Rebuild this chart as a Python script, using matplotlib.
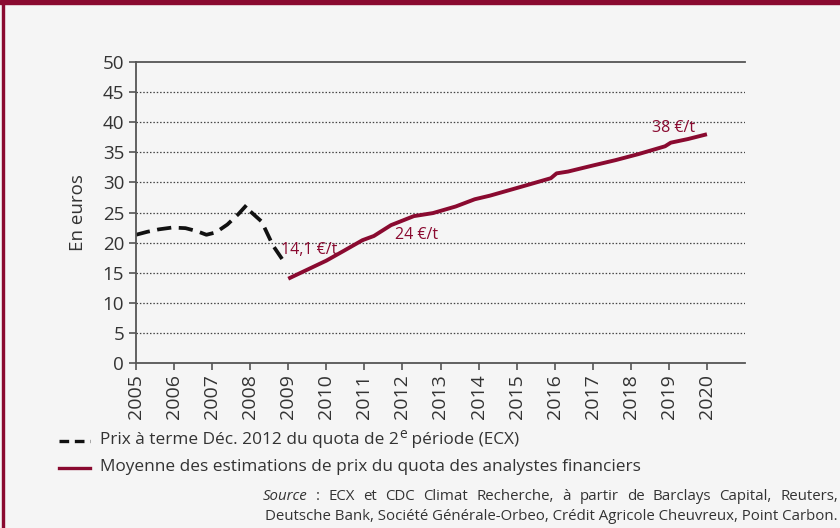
import matplotlib
matplotlib.use('Agg')
import matplotlib.pyplot as plt
from matplotlib.lines import Line2D
from matplotlib.patches import Rectangle

# data
ecx_years = [2005.0, 2005.3, 2005.6, 2005.95, 2006.3, 2006.6, 2006.85, 2007.1,
             2007.4, 2007.7, 2007.9, 2008.0, 2008.3, 2008.6, 2008.9]
ecx_prices = [21.3, 21.8, 22.2, 22.5, 22.4, 21.9, 21.3, 21.7,
              23.0, 24.8, 26.2, 25.2, 23.5, 19.5, 16.7]

est_years = [2009.0, 2009.5, 2010.0, 2010.45, 2010.95, 2011.25, 2011.7, 2012.3,
             2012.8, 2013.4, 2013.9, 2014.3, 2014.8, 2015.3, 2015.9, 2016.05,
             2016.35, 2017.0, 2017.6, 2018.2, 2018.9, 2019.05, 2019.5, 2020.0]
est_prices = [14.0, 15.5, 17.0, 18.6, 20.4, 21.1, 22.9, 24.4,
              24.9, 26.0, 27.2, 27.8, 28.7, 29.6, 30.7, 31.5,
              31.8, 32.8, 33.7, 34.7, 36.0, 36.6, 37.2, 38.0]

labels_txt = ['14,1 €/t', '24 €/t', '38 €/t']
labels_pos = [(2009.55, 18.8), (2012.36, 21.3), (2019.12, 39.0)]

years = list(range(2005, 2021))
yticks = list(range(0, 55, 5))

legend_1 = ['Prix à terme Déc. 2012 du quota de 2', 'e', ' période (ECX)']
legend_2 = 'Moyenne des estimations de prix du quota des analystes financiers'
source_1 = ['ECX', 'et', 'CDC', 'Climat', 'Recherche,', 'à', 'partir', 'de',
            'Barclays', 'Capital,', 'Reuters,']
source_2 = 'Deutsche Bank, Société Générale-Orbeo, Crédit Agricole Cheuvreux, Point Carbon.'

red = '#8a0a30'
bg = '#f5f5f5'
txtc = '#333333'

plt.rcParams['font.family'] = ['Open Sans', 'DejaVu Sans']

fig = plt.figure(figsize=(8.4, 5.28), dpi=100, facecolor=bg)
ax = fig.add_axes([136/840, 1-363/528, (745-136)/840, (363-62)/528])
ax.set_facecolor(bg)

ax.plot(ecx_years, ecx_prices, color='#111111', lw=2.7, ls=(0, (3.8, 2.0)),
        solid_capstyle='butt', dash_capstyle='butt')
ax.plot(est_years, est_prices, color=red, lw=2.8, solid_capstyle='butt')

for t, (x, y) in zip(labels_txt, labels_pos):
    ax.text(x, y, t, color=red, fontsize=11.5, ha='center', va='center')

ax.set_xlim(2005, 2021)
ax.set_ylim(0, 50)
ax.set_xticks(years)
ax.set_xticklabels([str(y) for y in years], rotation=90, fontsize=14)
ax.set_yticks(yticks)
for y in yticks[1:-1]:
    ax.axhline(y, color='#444444', lw=0.9, ls=(0, (1.2, 1.5)), zorder=0)

for s in ['left', 'bottom', 'top']:
    ax.spines[s].set_color('#555555')
    ax.spines[s].set_linewidth(1.3)
ax.spines['right'].set_visible(False)
ax.tick_params(axis='both', colors='#555555', labelcolor=txtc, length=5, width=1.2)
ax.tick_params(axis='y', labelsize=13.5)
ax.tick_params(axis='x', pad=3)
ax.set_ylabel('En euros', fontsize=13.5, color=txtc, labelpad=11)

# border of the frame
fig.patches.append(Rectangle((0, 1-3.5/528), 1, 3.5/528, transform=fig.transFigure,
                             color=red, zorder=5))
fig.patches.append(Rectangle((1.5/840, 0), 2/840, 1, transform=fig.transFigure,
                             color=red, zorder=5))

fig.canvas.draw()
r = fig.canvas.get_renderer()

# legend drawn by hand
fs_leg = 12.4
fig.add_artist(Line2D([59/840, 90/840], [1-441/528, 1-441/528], color='#111111',
                      lw=2.4, ls=(0, (2.9, 1.7)), dash_capstyle='butt'))
fig.add_artist(Line2D([59/840, 90/840], [1-468/528, 1-468/528], color=red, lw=2.4))
x = 100/840
yl = 1-440/528
for i, part in enumerate(legend_1):
    if i == 1:
        t = fig.text(x, yl + 6/528, part, fontsize=fs_leg*0.8, color=txtc, va='center')
    else:
        t = fig.text(x, yl, part, fontsize=fs_leg, color=txtc, va='center')
    x += t.get_window_extent(r).width / 840
fig.text(100/840, 1-467/528, legend_2, fontsize=fs_leg, color=txtc, va='center')

# source, first line justified between x=263 and x=838
left, right = 263/840, 838/840
y1, y2 = 1-497/528, 1-516/528
fs = 10.8
words = [fig.text(0, y1, 'Source', fontsize=fs, style='italic', color=txtc, va='center'),
         fig.text(0, y1, ':', fontsize=fs, color=txtc, va='center')]
words += [fig.text(0, y1, w, fontsize=fs, color=txtc, va='center') for w in source_1]
widths = [w.get_window_extent(r).width / 840 for w in words]
gap = (right - left - sum(widths)) / (len(words) - 1)
x = left
for w, wd in zip(words, widths):
    w.set_x(x)
    x += wd + gap
fig.text(right, y2, source_2, fontsize=fs, color=txtc, va='center', ha='right')

fig.savefig('out.png', dpi=100, facecolor=bg)
